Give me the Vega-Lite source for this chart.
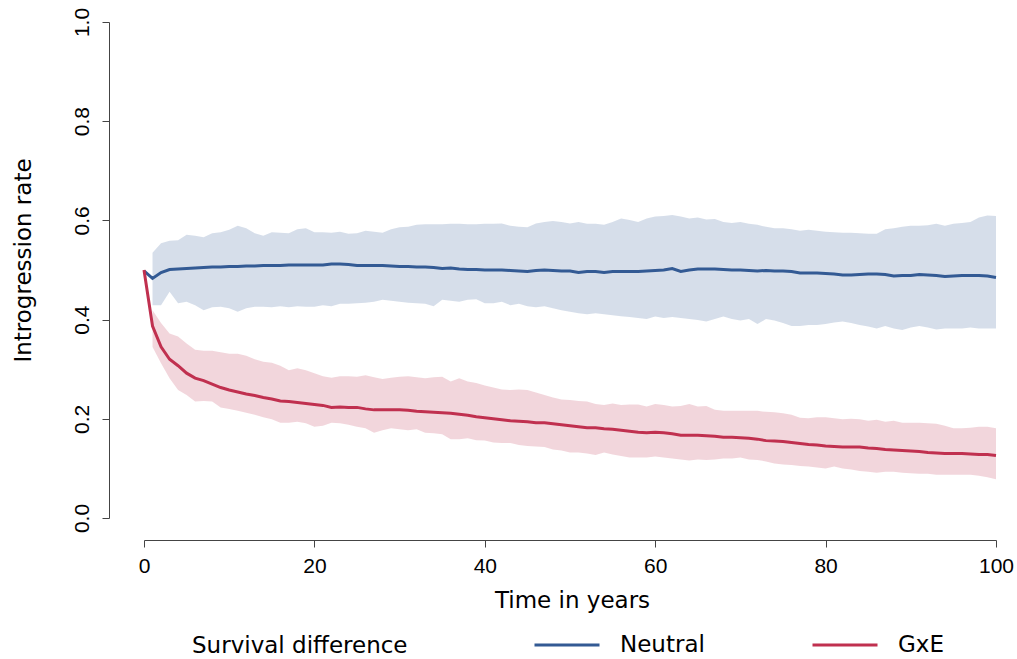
{
  "$schema": "https://vega.github.io/schema/vega-lite/v6.json",
  "width": 852,
  "height": 496,
  "autosize": {"type": "none"},
  "padding": {"left": 144, "top": 22, "right": 21, "bottom": 141},
  "background": "white",
  "config": {"view": {"stroke": null}, "font": "DejaVu Sans"},
  "data": {"values": [
    {"t":0,"s":"Neutral","m":0.498},
    {"t":1,"s":"Neutral","m":0.483,"lo":0.429,"hi":0.535},
    {"t":2,"s":"Neutral","m":0.495,"lo":0.429,"hi":0.554},
    {"t":3,"s":"Neutral","m":0.501,"lo":0.456,"hi":0.559},
    {"t":4,"s":"Neutral","m":0.502,"lo":0.433,"hi":0.560},
    {"t":5,"s":"Neutral","m":0.503,"lo":0.436,"hi":0.571},
    {"t":6,"s":"Neutral","m":0.504,"lo":0.429,"hi":0.569},
    {"t":7,"s":"Neutral","m":0.505,"lo":0.419,"hi":0.566},
    {"t":8,"s":"Neutral","m":0.506,"lo":0.425,"hi":0.574},
    {"t":9,"s":"Neutral","m":0.506,"lo":0.426,"hi":0.576},
    {"t":10,"s":"Neutral","m":0.507,"lo":0.423,"hi":0.581},
    {"t":11,"s":"Neutral","m":0.507,"lo":0.416,"hi":0.589},
    {"t":12,"s":"Neutral","m":0.508,"lo":0.423,"hi":0.584},
    {"t":13,"s":"Neutral","m":0.508,"lo":0.426,"hi":0.574},
    {"t":14,"s":"Neutral","m":0.509,"lo":0.426,"hi":0.569},
    {"t":15,"s":"Neutral","m":0.509,"lo":0.425,"hi":0.576},
    {"t":16,"s":"Neutral","m":0.509,"lo":0.427,"hi":0.575},
    {"t":17,"s":"Neutral","m":0.510,"lo":0.425,"hi":0.574},
    {"t":18,"s":"Neutral","m":0.510,"lo":0.427,"hi":0.582},
    {"t":19,"s":"Neutral","m":0.510,"lo":0.426,"hi":0.584},
    {"t":20,"s":"Neutral","m":0.510,"lo":0.426,"hi":0.576},
    {"t":21,"s":"Neutral","m":0.510,"lo":0.429,"hi":0.576},
    {"t":22,"s":"Neutral","m":0.512,"lo":0.427,"hi":0.575},
    {"t":23,"s":"Neutral","m":0.512,"lo":0.432,"hi":0.577},
    {"t":24,"s":"Neutral","m":0.511,"lo":0.432,"hi":0.573},
    {"t":25,"s":"Neutral","m":0.509,"lo":0.433,"hi":0.574},
    {"t":26,"s":"Neutral","m":0.509,"lo":0.434,"hi":0.579},
    {"t":27,"s":"Neutral","m":0.509,"lo":0.436,"hi":0.577},
    {"t":28,"s":"Neutral","m":0.509,"lo":0.440,"hi":0.575},
    {"t":29,"s":"Neutral","m":0.508,"lo":0.438,"hi":0.582},
    {"t":30,"s":"Neutral","m":0.507,"lo":0.436,"hi":0.586},
    {"t":31,"s":"Neutral","m":0.507,"lo":0.434,"hi":0.587},
    {"t":32,"s":"Neutral","m":0.506,"lo":0.433,"hi":0.591},
    {"t":33,"s":"Neutral","m":0.506,"lo":0.432,"hi":0.592},
    {"t":34,"s":"Neutral","m":0.505,"lo":0.427,"hi":0.592},
    {"t":35,"s":"Neutral","m":0.503,"lo":0.440,"hi":0.592},
    {"t":36,"s":"Neutral","m":0.504,"lo":0.438,"hi":0.593},
    {"t":37,"s":"Neutral","m":0.502,"lo":0.436,"hi":0.593},
    {"t":38,"s":"Neutral","m":0.501,"lo":0.440,"hi":0.592},
    {"t":39,"s":"Neutral","m":0.501,"lo":0.441,"hi":0.592},
    {"t":40,"s":"Neutral","m":0.500,"lo":0.433,"hi":0.593},
    {"t":41,"s":"Neutral","m":0.500,"lo":0.433,"hi":0.593},
    {"t":42,"s":"Neutral","m":0.500,"lo":0.436,"hi":0.594},
    {"t":43,"s":"Neutral","m":0.499,"lo":0.429,"hi":0.589},
    {"t":44,"s":"Neutral","m":0.498,"lo":0.432,"hi":0.587},
    {"t":45,"s":"Neutral","m":0.497,"lo":0.427,"hi":0.586},
    {"t":46,"s":"Neutral","m":0.499,"lo":0.425,"hi":0.594},
    {"t":47,"s":"Neutral","m":0.500,"lo":0.427,"hi":0.597},
    {"t":48,"s":"Neutral","m":0.499,"lo":0.423,"hi":0.599},
    {"t":49,"s":"Neutral","m":0.498,"lo":0.419,"hi":0.597},
    {"t":50,"s":"Neutral","m":0.498,"lo":0.416,"hi":0.594},
    {"t":51,"s":"Neutral","m":0.495,"lo":0.413,"hi":0.597},
    {"t":52,"s":"Neutral","m":0.497,"lo":0.411,"hi":0.593},
    {"t":53,"s":"Neutral","m":0.497,"lo":0.413,"hi":0.593},
    {"t":54,"s":"Neutral","m":0.495,"lo":0.411,"hi":0.591},
    {"t":55,"s":"Neutral","m":0.497,"lo":0.409,"hi":0.597},
    {"t":56,"s":"Neutral","m":0.497,"lo":0.407,"hi":0.604},
    {"t":57,"s":"Neutral","m":0.497,"lo":0.405,"hi":0.601},
    {"t":58,"s":"Neutral","m":0.497,"lo":0.403,"hi":0.597},
    {"t":59,"s":"Neutral","m":0.498,"lo":0.401,"hi":0.604},
    {"t":60,"s":"Neutral","m":0.499,"lo":0.406,"hi":0.608},
    {"t":61,"s":"Neutral","m":0.500,"lo":0.403,"hi":0.609},
    {"t":62,"s":"Neutral","m":0.503,"lo":0.405,"hi":0.611},
    {"t":63,"s":"Neutral","m":0.497,"lo":0.403,"hi":0.608},
    {"t":64,"s":"Neutral","m":0.500,"lo":0.401,"hi":0.604},
    {"t":65,"s":"Neutral","m":0.502,"lo":0.399,"hi":0.606},
    {"t":66,"s":"Neutral","m":0.502,"lo":0.396,"hi":0.602},
    {"t":67,"s":"Neutral","m":0.502,"lo":0.401,"hi":0.603},
    {"t":68,"s":"Neutral","m":0.501,"lo":0.406,"hi":0.597},
    {"t":69,"s":"Neutral","m":0.500,"lo":0.401,"hi":0.595},
    {"t":70,"s":"Neutral","m":0.500,"lo":0.398,"hi":0.597},
    {"t":71,"s":"Neutral","m":0.499,"lo":0.401,"hi":0.593},
    {"t":72,"s":"Neutral","m":0.498,"lo":0.391,"hi":0.591},
    {"t":73,"s":"Neutral","m":0.499,"lo":0.401,"hi":0.587},
    {"t":74,"s":"Neutral","m":0.498,"lo":0.398,"hi":0.584},
    {"t":75,"s":"Neutral","m":0.498,"lo":0.393,"hi":0.584},
    {"t":76,"s":"Neutral","m":0.497,"lo":0.387,"hi":0.582},
    {"t":77,"s":"Neutral","m":0.494,"lo":0.387,"hi":0.579},
    {"t":78,"s":"Neutral","m":0.494,"lo":0.389,"hi":0.581},
    {"t":79,"s":"Neutral","m":0.494,"lo":0.389,"hi":0.579},
    {"t":80,"s":"Neutral","m":0.493,"lo":0.391,"hi":0.577},
    {"t":81,"s":"Neutral","m":0.492,"lo":0.394,"hi":0.576},
    {"t":82,"s":"Neutral","m":0.490,"lo":0.396,"hi":0.575},
    {"t":83,"s":"Neutral","m":0.490,"lo":0.393,"hi":0.575},
    {"t":84,"s":"Neutral","m":0.491,"lo":0.389,"hi":0.574},
    {"t":85,"s":"Neutral","m":0.492,"lo":0.386,"hi":0.573},
    {"t":86,"s":"Neutral","m":0.492,"lo":0.382,"hi":0.573},
    {"t":87,"s":"Neutral","m":0.491,"lo":0.387,"hi":0.582},
    {"t":88,"s":"Neutral","m":0.488,"lo":0.382,"hi":0.584},
    {"t":89,"s":"Neutral","m":0.489,"lo":0.379,"hi":0.587},
    {"t":90,"s":"Neutral","m":0.489,"lo":0.384,"hi":0.589},
    {"t":91,"s":"Neutral","m":0.491,"lo":0.387,"hi":0.589},
    {"t":92,"s":"Neutral","m":0.490,"lo":0.384,"hi":0.590},
    {"t":93,"s":"Neutral","m":0.489,"lo":0.380,"hi":0.593},
    {"t":94,"s":"Neutral","m":0.487,"lo":0.382,"hi":0.589},
    {"t":95,"s":"Neutral","m":0.488,"lo":0.382,"hi":0.593},
    {"t":96,"s":"Neutral","m":0.489,"lo":0.382,"hi":0.595},
    {"t":97,"s":"Neutral","m":0.489,"lo":0.384,"hi":0.597},
    {"t":98,"s":"Neutral","m":0.489,"lo":0.382,"hi":0.606},
    {"t":99,"s":"Neutral","m":0.488,"lo":0.382,"hi":0.610},
    {"t":100,"s":"Neutral","m":0.485,"lo":0.382,"hi":0.609},
    {"t":0,"s":"GxE","m":0.500},
    {"t":1,"s":"GxE","m":0.387,"lo":0.345,"hi":0.419},
    {"t":2,"s":"GxE","m":0.345,"lo":0.312,"hi":0.393},
    {"t":3,"s":"GxE","m":0.320,"lo":0.282,"hi":0.372},
    {"t":4,"s":"GxE","m":0.307,"lo":0.258,"hi":0.366},
    {"t":5,"s":"GxE","m":0.292,"lo":0.248,"hi":0.352},
    {"t":6,"s":"GxE","m":0.282,"lo":0.235,"hi":0.339},
    {"t":7,"s":"GxE","m":0.277,"lo":0.236,"hi":0.337},
    {"t":8,"s":"GxE","m":0.270,"lo":0.235,"hi":0.337},
    {"t":9,"s":"GxE","m":0.263,"lo":0.223,"hi":0.334},
    {"t":10,"s":"GxE","m":0.258,"lo":0.220,"hi":0.331},
    {"t":11,"s":"GxE","m":0.254,"lo":0.216,"hi":0.331},
    {"t":12,"s":"GxE","m":0.250,"lo":0.212,"hi":0.327},
    {"t":13,"s":"GxE","m":0.247,"lo":0.208,"hi":0.320},
    {"t":14,"s":"GxE","m":0.243,"lo":0.203,"hi":0.315},
    {"t":15,"s":"GxE","m":0.240,"lo":0.199,"hi":0.313},
    {"t":16,"s":"GxE","m":0.236,"lo":0.192,"hi":0.307},
    {"t":17,"s":"GxE","m":0.235,"lo":0.192,"hi":0.298},
    {"t":18,"s":"GxE","m":0.233,"lo":0.194,"hi":0.302},
    {"t":19,"s":"GxE","m":0.231,"lo":0.191,"hi":0.298},
    {"t":20,"s":"GxE","m":0.229,"lo":0.184,"hi":0.292},
    {"t":21,"s":"GxE","m":0.227,"lo":0.186,"hi":0.286},
    {"t":22,"s":"GxE","m":0.223,"lo":0.192,"hi":0.283},
    {"t":23,"s":"GxE","m":0.224,"lo":0.191,"hi":0.286},
    {"t":24,"s":"GxE","m":0.223,"lo":0.188,"hi":0.286},
    {"t":25,"s":"GxE","m":0.223,"lo":0.184,"hi":0.285},
    {"t":26,"s":"GxE","m":0.220,"lo":0.181,"hi":0.288},
    {"t":27,"s":"GxE","m":0.218,"lo":0.172,"hi":0.284},
    {"t":28,"s":"GxE","m":0.218,"lo":0.177,"hi":0.280},
    {"t":29,"s":"GxE","m":0.218,"lo":0.181,"hi":0.283},
    {"t":30,"s":"GxE","m":0.218,"lo":0.179,"hi":0.285},
    {"t":31,"s":"GxE","m":0.217,"lo":0.177,"hi":0.286},
    {"t":32,"s":"GxE","m":0.215,"lo":0.179,"hi":0.284},
    {"t":33,"s":"GxE","m":0.214,"lo":0.172,"hi":0.282},
    {"t":34,"s":"GxE","m":0.213,"lo":0.171,"hi":0.284},
    {"t":35,"s":"GxE","m":0.212,"lo":0.169,"hi":0.285},
    {"t":36,"s":"GxE","m":0.211,"lo":0.159,"hi":0.275},
    {"t":37,"s":"GxE","m":0.209,"lo":0.159,"hi":0.282},
    {"t":38,"s":"GxE","m":0.207,"lo":0.161,"hi":0.275},
    {"t":39,"s":"GxE","m":0.204,"lo":0.157,"hi":0.272},
    {"t":40,"s":"GxE","m":0.202,"lo":0.156,"hi":0.267},
    {"t":41,"s":"GxE","m":0.200,"lo":0.152,"hi":0.263},
    {"t":42,"s":"GxE","m":0.198,"lo":0.151,"hi":0.259},
    {"t":43,"s":"GxE","m":0.196,"lo":0.151,"hi":0.258},
    {"t":44,"s":"GxE","m":0.195,"lo":0.147,"hi":0.259},
    {"t":45,"s":"GxE","m":0.194,"lo":0.145,"hi":0.258},
    {"t":46,"s":"GxE","m":0.192,"lo":0.144,"hi":0.253},
    {"t":47,"s":"GxE","m":0.192,"lo":0.143,"hi":0.248},
    {"t":48,"s":"GxE","m":0.190,"lo":0.138,"hi":0.243},
    {"t":49,"s":"GxE","m":0.188,"lo":0.136,"hi":0.239},
    {"t":50,"s":"GxE","m":0.186,"lo":0.132,"hi":0.238},
    {"t":51,"s":"GxE","m":0.184,"lo":0.132,"hi":0.236},
    {"t":52,"s":"GxE","m":0.182,"lo":0.130,"hi":0.235},
    {"t":53,"s":"GxE","m":0.182,"lo":0.127,"hi":0.230},
    {"t":54,"s":"GxE","m":0.180,"lo":0.132,"hi":0.228},
    {"t":55,"s":"GxE","m":0.179,"lo":0.128,"hi":0.231},
    {"t":56,"s":"GxE","m":0.177,"lo":0.125,"hi":0.228},
    {"t":57,"s":"GxE","m":0.175,"lo":0.122,"hi":0.229},
    {"t":58,"s":"GxE","m":0.173,"lo":0.122,"hi":0.229},
    {"t":59,"s":"GxE","m":0.172,"lo":0.122,"hi":0.225},
    {"t":60,"s":"GxE","m":0.173,"lo":0.124,"hi":0.230},
    {"t":61,"s":"GxE","m":0.172,"lo":0.122,"hi":0.228},
    {"t":62,"s":"GxE","m":0.170,"lo":0.120,"hi":0.225},
    {"t":63,"s":"GxE","m":0.167,"lo":0.118,"hi":0.226},
    {"t":64,"s":"GxE","m":0.167,"lo":0.116,"hi":0.230},
    {"t":65,"s":"GxE","m":0.167,"lo":0.118,"hi":0.225},
    {"t":66,"s":"GxE","m":0.166,"lo":0.117,"hi":0.226},
    {"t":67,"s":"GxE","m":0.165,"lo":0.118,"hi":0.218},
    {"t":68,"s":"GxE","m":0.163,"lo":0.120,"hi":0.216},
    {"t":69,"s":"GxE","m":0.163,"lo":0.120,"hi":0.216},
    {"t":70,"s":"GxE","m":0.162,"lo":0.122,"hi":0.216},
    {"t":71,"s":"GxE","m":0.161,"lo":0.118,"hi":0.216},
    {"t":72,"s":"GxE","m":0.159,"lo":0.117,"hi":0.216},
    {"t":73,"s":"GxE","m":0.156,"lo":0.114,"hi":0.214},
    {"t":74,"s":"GxE","m":0.155,"lo":0.110,"hi":0.213},
    {"t":75,"s":"GxE","m":0.154,"lo":0.108,"hi":0.211},
    {"t":76,"s":"GxE","m":0.152,"lo":0.107,"hi":0.208},
    {"t":77,"s":"GxE","m":0.150,"lo":0.105,"hi":0.202},
    {"t":78,"s":"GxE","m":0.148,"lo":0.104,"hi":0.201},
    {"t":79,"s":"GxE","m":0.147,"lo":0.102,"hi":0.203},
    {"t":80,"s":"GxE","m":0.145,"lo":0.100,"hi":0.203},
    {"t":81,"s":"GxE","m":0.144,"lo":0.104,"hi":0.201},
    {"t":82,"s":"GxE","m":0.143,"lo":0.100,"hi":0.199},
    {"t":83,"s":"GxE","m":0.143,"lo":0.098,"hi":0.200},
    {"t":84,"s":"GxE","m":0.143,"lo":0.095,"hi":0.199},
    {"t":85,"s":"GxE","m":0.141,"lo":0.093,"hi":0.196},
    {"t":86,"s":"GxE","m":0.140,"lo":0.091,"hi":0.198},
    {"t":87,"s":"GxE","m":0.138,"lo":0.093,"hi":0.194},
    {"t":88,"s":"GxE","m":0.137,"lo":0.093,"hi":0.196},
    {"t":89,"s":"GxE","m":0.136,"lo":0.091,"hi":0.192},
    {"t":90,"s":"GxE","m":0.135,"lo":0.090,"hi":0.192},
    {"t":91,"s":"GxE","m":0.134,"lo":0.089,"hi":0.192},
    {"t":92,"s":"GxE","m":0.132,"lo":0.089,"hi":0.191},
    {"t":93,"s":"GxE","m":0.131,"lo":0.087,"hi":0.190},
    {"t":94,"s":"GxE","m":0.130,"lo":0.087,"hi":0.186},
    {"t":95,"s":"GxE","m":0.130,"lo":0.087,"hi":0.181},
    {"t":96,"s":"GxE","m":0.130,"lo":0.087,"hi":0.181},
    {"t":97,"s":"GxE","m":0.129,"lo":0.087,"hi":0.182},
    {"t":98,"s":"GxE","m":0.128,"lo":0.085,"hi":0.184},
    {"t":99,"s":"GxE","m":0.128,"lo":0.082,"hi":0.184},
    {"t":100,"s":"GxE","m":0.126,"lo":0.078,"hi":0.181}
  ]},
  "encoding": {
    "x": {
      "field": "t", "type": "quantitative",
      "scale": {"domain": [0, 100], "nice": false, "zero": false},
      "axis": {
        "values": [0, 20, 40, 60, 80, 100], "title": "Time in years", "grid": false,
        "offset": 22, "tickSize": 7, "domainColor": "#444444", "tickColor": "#444444",
        "labelFont": "Liberation Sans", "labelFontSize": 21, "labelColor": "black",
        "labelBaseline": "alphabetic", "labelPadding": 25, "labelFlush": false,
        "titleFont": "DejaVu Sans", "titleFontSize": 23, "titleFontWeight": "normal",
        "titleColor": "black", "titleBaseline": "alphabetic", "titleY": 67, "titleX": 428
      }
    },
    "color": {
      "field": "s", "type": "nominal",
      "scale": {"domain": ["Neutral", "GxE"], "range": ["#335a94", "#c0304f"]},
      "legend": {
        "orient": "none", "legendX": 48, "legendY": 589, "direction": "horizontal",
        "title": "Survival difference", "titleOrient": "left", "titleLimit": 0,
        "titleAnchor": "middle", "titleBaseline": "middle",
        "titleFont": "DejaVu Sans", "titleFontSize": 23, "titleFontWeight": "normal", "titleColor": "black",
        "titlePadding": 125,
        "labelFont": "DejaVu Sans", "labelFontSize": 23, "labelColor": "black", "labelLimit": 0,
        "symbolType": "stroke", "symbolStrokeWidth": 3, "symbolSize": 4225, "symbolOpacity": 1,
        "labelOffset": 19, "columnPadding": 101,
        "encode": {
          "symbols": {"update": {"opacity": {"value": 1}, "strokeOpacity": {"value": 1}, "fillOpacity": {"value": 0}}},
          "title": {"update": {"dy": {"value": 12}}}
        }
      }
    }
  },
  "layer": [
    {
      "transform": [{"filter": "datum.lo != null"}],
      "mark": {"type": "area", "interpolate": "linear", "fillOpacity": 0.2},
      "encoding": {
        "y": {
          "field": "lo", "type": "quantitative",
          "scale": {"domain": [0, 1], "nice": false},
          "axis": {
            "values": [0, 0.2, 0.4, 0.6, 0.8, 1], "format": ".1f", "title": "Introgression rate",
            "grid": false, "offset": 35, "tickSize": 7, "domainColor": "#444444", "tickColor": "#444444",
            "labelFont": "Liberation Sans", "labelFontSize": 21, "labelColor": "black",
            "labelAngle": -90, "labelAlign": "center", "labelBaseline": "alphabetic", "labelPadding": 14,
            "titleFont": "DejaVu Sans", "titleFontSize": 23, "titleFontWeight": "normal", "titleColor": "black",
            "titleAngle": -90, "titleAlign": "center", "titleBaseline": "alphabetic", "titleX": -79, "titleY": 238
          }
        },
        "y2": {"field": "hi"}
      }
    },
    {
      "mark": {"type": "line", "strokeWidth": 3, "interpolate": "linear"},
      "encoding": {
        "y": {
          "field": "m", "type": "quantitative",
          "scale": {"domain": [0, 1], "nice": false},
          "axis": {
            "values": [0, 0.2, 0.4, 0.6, 0.8, 1], "format": ".1f", "title": "Introgression rate",
            "grid": false, "offset": 35, "tickSize": 7, "domainColor": "#444444", "tickColor": "#444444",
            "labelFont": "Liberation Sans", "labelFontSize": 21, "labelColor": "black",
            "labelAngle": -90, "labelAlign": "center", "labelBaseline": "alphabetic", "labelPadding": 14,
            "titleFont": "DejaVu Sans", "titleFontSize": 23, "titleFontWeight": "normal", "titleColor": "black",
            "titleAngle": -90, "titleAlign": "center", "titleBaseline": "alphabetic", "titleX": -79, "titleY": 238
          }
        }
      }
    }
  ]
}
